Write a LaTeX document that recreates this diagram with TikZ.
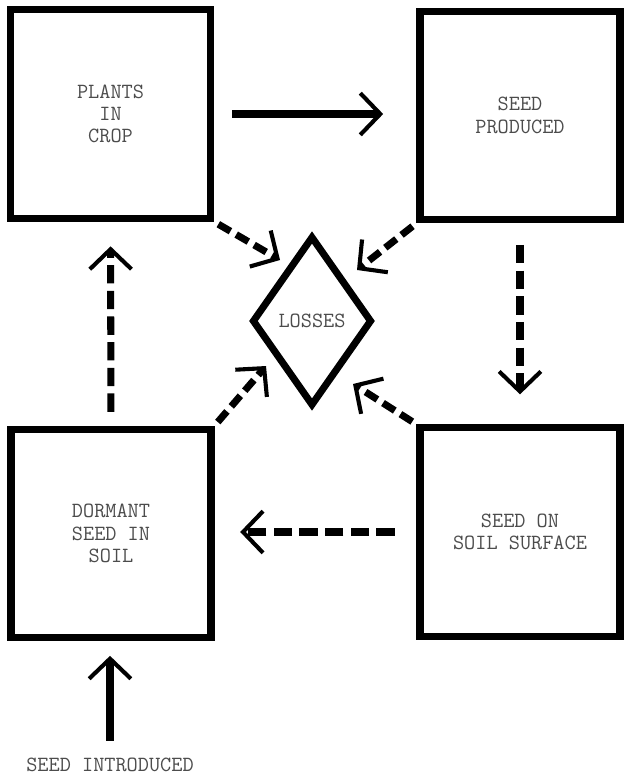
\documentclass[tikz,border=0pt]{standalone}
\usepackage{fontspec}
\usepackage{xcolor}
\usepackage{tikz}
\usetikzlibrary{arrows.meta,shapes.geometric}

\begin{document}
\begin{tikzpicture}[x=0.03cm,y=-0.03cm,
  every node/.append style={font=\ttfamily\fontsize{18.5}{19}\selectfont,text=black!70},
  stagebox/.style={draw,line width=6pt,minimum width=6cm,minimum height=6.25cm,align=center,inner sep=0pt},
  flow/.style={line width=6pt,-{Straight Barb[length=0.6cm,width=1.25cm,line width=3.5pt]}},
  broken/.style={flow,dash pattern=on 0.55cm off 0.22cm},
  lossflow/.style={flow,dash pattern=on 0.42cm off 0.2cm}]
\useasboundingbox (0,0) rectangle (625,777);
\node[stagebox] (plants) at (110.5,114) {PLANTS\\IN\\CROP};
\node[stagebox] (seedprod) at (520,115.5) {SEED\\PRODUCED};
\node[stagebox] (dormant) at (111,533.5) {DORMANT\\SEED IN\\SOIL};
\node[stagebox] (soilsurf) at (520,532) {SEED ON\\SOIL SURFACE};
\node[draw,diamond,line width=6pt,minimum width=3.6cm,minimum height=5.1cm,inner sep=0pt] (losses) at (312,321) {LOSSES};
\node (intro) at (110,765) {SEED INTRODUCED};
\coordinate (tipA) at (280,260);
\coordinate (tipB) at (357,270);
\coordinate (tipC) at (266,366);
\coordinate (tipD) at (353,384);
\draw[flow,shorten <=0.55cm,shorten >=1cm] (plants.east) -- (plants.east -| seedprod.west);
\draw[broken,shorten <=0.65cm,shorten >=0.9cm] (seedprod.south) -- (soilsurf.north);
\draw[broken,shorten <=0.65cm,shorten >=0.77cm] (soilsurf.west) -- (soilsurf.west -| dormant.east);
\draw[broken,shorten <=0.42cm,shorten >=0.74cm] (dormant.north) -- (plants.south);
\draw[flow,shorten <=0.4cm,shorten >=0.44cm] (intro.north) -- (intro.north |- dormant.south);
\draw[lossflow,shorten <=0.15cm] (plants.south east) -- (tipA);
\draw[lossflow,shorten <=0.15cm] (seedprod.south west) -- (tipB);
\draw[lossflow,shorten <=0.15cm] (dormant.north east) -- (tipC);
\draw[lossflow,shorten <=0.15cm] (soilsurf.north west) -- (tipD);
\end{tikzpicture}
\end{document}
